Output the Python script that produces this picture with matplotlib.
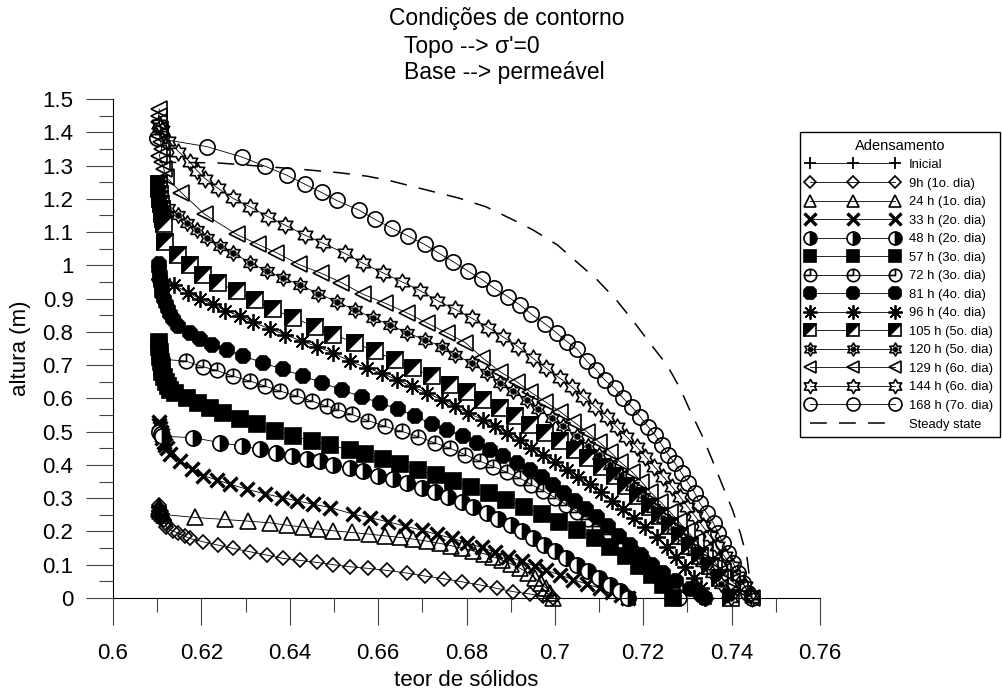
import numpy as np
import matplotlib
matplotlib.use("Agg")
import matplotlib.pyplot as plt
from matplotlib.path import Path
from matplotlib.ticker import MultipleLocator, FuncFormatter
from matplotlib.legend_handler import HandlerTuple

plt.rcParams['font.family'] = ['Liberation Sans', 'DejaVu Sans']

# ---------------------------------------------------------------- data
# solids content (x) versus height (y) for each time of the filling/consolidation test

x_ini = [0.6105, 0.6105]
y_ini = [0.275, 0.262]

x_9h = [0.6105, 0.6105, 0.6108, 0.6110, 0.6112, 0.6115, 0.6118, 0.6121, 0.6135, 0.6148, 0.6162,
        0.6174, 0.6204, 0.6238, 0.6272, 0.6310, 0.6348, 0.6385, 0.6423, 0.6461, 0.6499, 0.6536,
        0.6578, 0.6619, 0.6665, 0.6706, 0.6748, 0.6789, 0.6831, 0.6868, 0.6906, 0.6944, 0.6974, 0.6996]
y_9h = [0.280, 0.270, 0.262, 0.252, 0.243, 0.234, 0.225, 0.212, 0.202, 0.194, 0.186,
        0.179, 0.169, 0.159, 0.149, 0.139, 0.129, 0.119, 0.113, 0.107, 0.100, 0.094,
        0.089, 0.083, 0.075, 0.066, 0.058, 0.049, 0.039, 0.029, 0.019, 0.012, 0.006, 0.0]

x_24h = [0.6105, 0.6105, 0.6107, 0.6110, 0.6115, 0.6186, 0.6253, 0.6306, 0.6355, 0.6393, 0.6431,
         0.6465, 0.6499, 0.6540, 0.6580, 0.6615, 0.6650, 0.6680, 0.6710, 0.6740, 0.6765, 0.6790,
         0.6815, 0.6840, 0.6860, 0.6880, 0.6900, 0.6920, 0.6940, 0.6955, 0.6968, 0.6980, 0.6990, 0.6996]
y_24h = [0.275, 0.268, 0.262, 0.256, 0.251, 0.242, 0.236, 0.231, 0.226, 0.219, 0.213,
         0.207, 0.202, 0.197, 0.192, 0.187, 0.182, 0.177, 0.171, 0.164, 0.157, 0.150,
         0.142, 0.133, 0.124, 0.114, 0.103, 0.090, 0.075, 0.060, 0.045, 0.030, 0.015, 0.0]

x_33h = [0.6105, 0.6105, 0.6107, 0.6108, 0.6110, 0.6112, 0.6115, 0.6118, 0.6122, 0.6129, 0.6152,
         0.6178, 0.6204, 0.6235, 0.6265, 0.6303, 0.6344, 0.6382, 0.6416, 0.6453, 0.6491, 0.6544,
         0.6582, 0.6623, 0.6661, 0.6699, 0.6733, 0.6767, 0.6800, 0.6834, 0.6864, 0.6895, 0.6925,
         0.6955, 0.6981, 0.7012, 0.7042, 0.7072, 0.7102, 0.7130, 0.7150, 0.7166]
y_33h = [0.530, 0.520, 0.510, 0.500, 0.490, 0.480, 0.470, 0.460, 0.450, 0.432, 0.412,
         0.388, 0.368, 0.355, 0.342, 0.327, 0.313, 0.302, 0.292, 0.282, 0.272, 0.252,
         0.241, 0.229, 0.216, 0.204, 0.191, 0.180, 0.166, 0.152, 0.138, 0.124, 0.110,
         0.096, 0.083, 0.069, 0.055, 0.042, 0.029, 0.017, 0.008, 0.0]

x_48h = [0.6105, 0.6108, 0.6110, 0.6182, 0.6242, 0.6291, 0.6333, 0.6370, 0.6404, 0.6438, 0.6468,
         0.6499, 0.6536, 0.6566, 0.6600, 0.6634, 0.6665, 0.6699, 0.6729, 0.6759, 0.6789, 0.6815,
         0.6846, 0.6872, 0.6900, 0.6925, 0.6950, 0.6975, 0.7000, 0.7025, 0.7050, 0.7075, 0.7100,
         0.7125, 0.7148, 0.7166]
y_48h = [0.500, 0.492, 0.486, 0.482, 0.467, 0.457, 0.447, 0.437, 0.428, 0.419, 0.411,
         0.401, 0.391, 0.381, 0.368, 0.357, 0.346, 0.332, 0.318, 0.303, 0.288, 0.273,
         0.256, 0.238, 0.220, 0.200, 0.180, 0.160, 0.140, 0.120, 0.100, 0.080, 0.060,
         0.040, 0.020, 0.0]

x_57h = [0.6105, 0.6105, 0.6106, 0.6107, 0.6108, 0.6110, 0.6112, 0.6115, 0.6120, 0.6125, 0.6130,
         0.6140, 0.6167, 0.6193, 0.6220, 0.6250, 0.6287, 0.6325, 0.6367, 0.6408, 0.6450, 0.6491,
         0.6536, 0.6570, 0.6610, 0.6650, 0.6690, 0.6730, 0.6770, 0.6810, 0.6850, 0.6890, 0.6930,
         0.6970, 0.7010, 0.7050, 0.7090, 0.7125, 0.7160, 0.7190, 0.7220, 0.7245, 0.7268]
y_57h = [0.770, 0.755, 0.740, 0.725, 0.710, 0.695, 0.680, 0.665, 0.650, 0.636, 0.625,
         0.615, 0.600, 0.586, 0.571, 0.556, 0.538, 0.522, 0.503, 0.487, 0.472, 0.460,
         0.445, 0.432, 0.418, 0.402, 0.386, 0.370, 0.352, 0.334, 0.315, 0.295, 0.274,
         0.252, 0.229, 0.205, 0.180, 0.153, 0.125, 0.097, 0.068, 0.038, 0.0]

x_72h = [0.6105, 0.6107, 0.6110, 0.6165, 0.6204, 0.6235, 0.6272, 0.6310, 0.6344, 0.6378, 0.6416,
         0.6450, 0.6484, 0.6510, 0.6540, 0.6578, 0.6616, 0.6653, 0.6691, 0.6729, 0.6763, 0.6797,
         0.6831, 0.6861, 0.6891, 0.6921, 0.6947, 0.6974, 0.7000, 0.7025, 0.7050, 0.7075, 0.7100,
         0.7125, 0.7150, 0.7175, 0.7200, 0.7222, 0.7245, 0.7265, 0.7280]
y_72h = [0.735, 0.726, 0.718, 0.712, 0.695, 0.684, 0.667, 0.652, 0.637, 0.622, 0.607,
         0.592, 0.577, 0.566, 0.552, 0.533, 0.516, 0.501, 0.485, 0.466, 0.450, 0.431,
         0.411, 0.395, 0.378, 0.360, 0.341, 0.322, 0.302, 0.281, 0.260, 0.238, 0.215,
         0.191, 0.166, 0.140, 0.113, 0.086, 0.058, 0.030, 0.0]

x_81h = [0.6105, 0.6105, 0.6106, 0.6107, 0.6108, 0.6110, 0.6112, 0.6115, 0.6120, 0.6125, 0.6130,
         0.6135, 0.6148, 0.6174, 0.6197, 0.6223, 0.6257, 0.6295, 0.6340, 0.6385, 0.6431, 0.6472,
         0.6518, 0.6563, 0.6604, 0.6646, 0.6683, 0.6721, 0.6755, 0.6793, 0.6823, 0.6853, 0.6883,
         0.6914, 0.6944, 0.6970, 0.6995, 0.7020, 0.7045, 0.7070, 0.7095, 0.7120, 0.7145, 0.7170,
         0.7195, 0.7220, 0.7245, 0.7275, 0.7305, 0.7330, 0.7340]
y_81h = [1.005, 0.990, 0.975, 0.960, 0.945, 0.930, 0.915, 0.900, 0.885, 0.870, 0.855,
         0.840, 0.817, 0.797, 0.778, 0.762, 0.746, 0.727, 0.707, 0.687, 0.667, 0.647,
         0.626, 0.604, 0.587, 0.567, 0.547, 0.524, 0.506, 0.486, 0.466, 0.446, 0.426,
         0.405, 0.385, 0.363, 0.340, 0.317, 0.293, 0.268, 0.242, 0.215, 0.187, 0.158,
         0.129, 0.100, 0.075, 0.052, 0.028, 0.008, 0.0]

x_96h = [0.6105, 0.6108, 0.6115, 0.6137, 0.6170, 0.6197, 0.6227, 0.6253, 0.6287, 0.6317, 0.6355,
         0.6389, 0.6427, 0.6461, 0.6499, 0.6536, 0.6574, 0.6608, 0.6642, 0.6676, 0.6710, 0.6744,
         0.6774, 0.6804, 0.6838, 0.6864, 0.6891, 0.6921, 0.6947, 0.6974, 0.7000, 0.7027, 0.7053,
         0.7080, 0.7105, 0.7130, 0.7155, 0.7180, 0.7205, 0.7230, 0.7253, 0.7275, 0.7295, 0.7315,
         0.7330, 0.7340]
y_96h = [0.960, 0.952, 0.945, 0.941, 0.918, 0.899, 0.883, 0.864, 0.848, 0.829, 0.809,
         0.792, 0.772, 0.756, 0.736, 0.712, 0.692, 0.676, 0.656, 0.636, 0.616, 0.596,
         0.576, 0.556, 0.535, 0.516, 0.496, 0.475, 0.452, 0.431, 0.410, 0.386, 0.365,
         0.342, 0.318, 0.293, 0.268, 0.241, 0.213, 0.184, 0.154, 0.123, 0.092, 0.061,
         0.030, 0.0]

x_105h = [0.6105, 0.6105, 0.6106, 0.6107, 0.6108, 0.6110, 0.6112, 0.6114, 0.6116, 0.6118, 0.6148,
          0.6174, 0.6204, 0.6238, 0.6280, 0.6321, 0.6363, 0.6408, 0.6457, 0.6499, 0.6548, 0.6593,
          0.6638, 0.6680, 0.6721, 0.6763, 0.6800, 0.6838, 0.6876, 0.6910, 0.6944, 0.6978, 0.7012,
          0.7046, 0.7076, 0.7106, 0.7136, 0.7162, 0.7189, 0.7215, 0.7238, 0.7260, 0.7283, 0.7306,
          0.7328, 0.7351, 0.7374, 0.7398]
y_105h = [1.245, 1.230, 1.215, 1.200, 1.185, 1.170, 1.155, 1.140, 1.125, 1.071, 1.030,
          1.000, 0.972, 0.948, 0.922, 0.895, 0.868, 0.842, 0.816, 0.792, 0.767, 0.741,
          0.716, 0.691, 0.666, 0.641, 0.620, 0.596, 0.571, 0.546, 0.521, 0.496, 0.471,
          0.445, 0.420, 0.395, 0.366, 0.336, 0.306, 0.275, 0.245, 0.215, 0.185, 0.155,
          0.125, 0.095, 0.060, 0.0]

x_120h = [0.6105, 0.6107, 0.6110, 0.6125, 0.6148, 0.6167, 0.6189, 0.6212, 0.6242, 0.6272, 0.6310,
          0.6348, 0.6385, 0.6423, 0.6465, 0.6506, 0.6548, 0.6589, 0.6627, 0.6666, 0.6706, 0.6744,
          0.6774, 0.6812, 0.6846, 0.6876, 0.6906, 0.6936, 0.6962, 0.6993, 0.7019, 0.7049, 0.7075,
          0.7100, 0.7125, 0.7150, 0.7175, 0.7200, 0.7223, 0.7245, 0.7268, 0.7290, 0.7312, 0.7333,
          0.7355, 0.7375, 0.7392, 0.7398]
y_120h = [1.215, 1.200, 1.185, 1.171, 1.151, 1.128, 1.107, 1.083, 1.058, 1.037, 1.008,
          0.983, 0.962, 0.941, 0.915, 0.891, 0.866, 0.842, 0.821, 0.797, 0.776, 0.756,
          0.731, 0.706, 0.676, 0.647, 0.621, 0.596, 0.567, 0.541, 0.516, 0.486, 0.458,
          0.430, 0.400, 0.370, 0.338, 0.305, 0.272, 0.240, 0.207, 0.174, 0.141, 0.108,
          0.075, 0.042, 0.012, 0.0]

x_129h = [0.6105, 0.6103, 0.6105, 0.6107, 0.6105, 0.6108, 0.6110, 0.6105, 0.6110, 0.6115, 0.6120,
          0.6155, 0.6208, 0.6280, 0.6328, 0.6370, 0.6420, 0.6470, 0.6517, 0.6566, 0.6616, 0.6665,
          0.6710, 0.6755, 0.6797, 0.6836, 0.6876, 0.6914, 0.6944, 0.6978, 0.7012, 0.7042, 0.7072,
          0.7099, 0.7125, 0.7147, 0.7174, 0.7196, 0.7215, 0.7238, 0.7260, 0.7280, 0.7300, 0.7320,
          0.7340, 0.7360, 0.7380, 0.7400, 0.7420, 0.7446]
y_129h = [1.470, 1.450, 1.430, 1.410, 1.390, 1.370, 1.350, 1.330, 1.310, 1.290, 1.265,
          1.218, 1.153, 1.093, 1.063, 1.038, 1.003, 0.977, 0.948, 0.913, 0.886, 0.857,
          0.827, 0.797, 0.768, 0.722, 0.680, 0.650, 0.620, 0.590, 0.560, 0.530, 0.500,
          0.470, 0.440, 0.410, 0.380, 0.350, 0.320, 0.290, 0.260, 0.230, 0.200, 0.170,
          0.140, 0.110, 0.080, 0.052, 0.026, 0.0]

x_144h = [0.6105, 0.6107, 0.6110, 0.6125, 0.6148, 0.6174, 0.6190, 0.6208, 0.6238, 0.6272, 0.6310,
          0.6351, 0.6389, 0.6434, 0.6476, 0.6525, 0.6566, 0.6610, 0.6653, 0.6695, 0.6734, 0.6774,
          0.6812, 0.6849, 0.6883, 0.6917, 0.6951, 0.6981, 0.7012, 0.7038, 0.7064, 0.7091, 0.7117,
          0.7140, 0.7162, 0.7185, 0.7205, 0.7225, 0.7245, 0.7265, 0.7283, 0.7300, 0.7318, 0.7335,
          0.7352, 0.7368, 0.7384, 0.7400, 0.7415, 0.7430, 0.7443, 0.7446]
y_144h = [1.425, 1.415, 1.407, 1.375, 1.342, 1.311, 1.285, 1.261, 1.231, 1.201, 1.176,
          1.146, 1.121, 1.091, 1.066, 1.036, 1.006, 0.978, 0.951, 0.924, 0.894, 0.868,
          0.841, 0.813, 0.785, 0.755, 0.720, 0.690, 0.660, 0.635, 0.605, 0.575, 0.545,
          0.515, 0.485, 0.455, 0.425, 0.395, 0.365, 0.335, 0.305, 0.275, 0.245, 0.215,
          0.185, 0.155, 0.125, 0.095, 0.065, 0.035, 0.008, 0.0]

x_168h = [0.6099, 0.6212, 0.6291, 0.6344, 0.6393, 0.6434, 0.6472, 0.6506, 0.6557, 0.6593, 0.6632,
          0.6668, 0.6705, 0.6738, 0.6770, 0.6803, 0.6834, 0.6863, 0.6893, 0.6921, 0.6947, 0.6978,
          0.7004, 0.7028, 0.7051, 0.7072, 0.7094, 0.7113, 0.7136, 0.7155, 0.7174, 0.7193, 0.7211,
          0.7227, 0.7242, 0.7257, 0.7272, 0.7287, 0.7302, 0.7317, 0.7328, 0.7344, 0.7359, 0.7370,
          0.7381, 0.7392, 0.7404, 0.7415, 0.7426, 0.7438, 0.7446]
y_168h = [1.382, 1.357, 1.326, 1.298, 1.271, 1.244, 1.219, 1.195, 1.166, 1.138, 1.111,
          1.088, 1.063, 1.036, 1.011, 0.983, 0.958, 0.931, 0.906, 0.881, 0.853, 0.824,
          0.797, 0.770, 0.747, 0.712, 0.685, 0.655, 0.630, 0.600, 0.575, 0.545, 0.515,
          0.490, 0.460, 0.430, 0.405, 0.375, 0.345, 0.315, 0.285, 0.255, 0.225, 0.194,
          0.164, 0.134, 0.104, 0.074, 0.044, 0.014, 0.0]

x_steady = [0.6105, 0.6235, 0.6335, 0.6440, 0.6515, 0.6575, 0.6625, 0.6717, 0.6783, 0.6844, 0.6899,
            0.6951, 0.7006, 0.7053, 0.7096, 0.7139, 0.7179, 0.7215, 0.7254, 0.7283, 0.7306, 0.7334,
            0.7357, 0.7380, 0.7402, 0.7420, 0.7435, 0.7446]
y_steady = [1.310, 1.308, 1.298, 1.287, 1.278, 1.268, 1.255, 1.224, 1.202, 1.176, 1.141,
            1.106, 1.061, 1.006, 0.956, 0.896, 0.830, 0.766, 0.700, 0.631, 0.563, 0.486,
            0.412, 0.336, 0.265, 0.194, 0.120, 0.0]

labels = ['Inicial', '9h (1o. dia)', '24 h (1o. dia)', '33 h (2o. dia)', '48 h (2o. dia)',
          '57 h (3o. dia)', '72 h (3o. dia)', '81 h (4o. dia)', '96 h (4o. dia)',
          '105 h (5o. dia)', '120 h (5o. dia)', '129 h (6o. dia)', '144 h (6o. dia)',
          '168 h (7o. dia)', 'Steady state']

# ---------------------------------------------------------------- marker shapes
def hexagram():
    ang = np.deg2rad(90 + 30 * np.arange(12))
    r = np.where(np.arange(12) % 2 == 0, 1.0, 1 / np.sqrt(3))
    v = np.column_stack([r * np.cos(ang), r * np.sin(ang)])
    v = np.vstack([v, v[:1]])
    codes = [Path.MOVETO] + [Path.LINETO] * 11 + [Path.CLOSEPOLY]
    return Path(v, codes)

def clock():
    circ = Path.unit_circle()
    hands = Path([(0, 1), (0, 0), (-1, 0)], [Path.MOVETO, Path.LINETO, Path.LINETO])
    return Path.make_compound_path(circ, hands)

half_tri = Path([(-1, -1), (-1, 1), (1, 1), (-1, -1)],
                [Path.MOVETO, Path.LINETO, Path.LINETO, Path.CLOSEPOLY])
STAR = hexagram()
CLOCK = clock()

# ---------------------------------------------------------------- figure
fig = plt.figure(figsize=(10.03, 6.91), dpi=100)
ax = fig.add_axes([113 / 1003, 1 - 598 / 691, 707 / 1003, 499 / 691])

LW = 0.6
MEW = 1.2
common = dict(color='black', lw=LW, mec='black', mew=MEW, clip_on=False)

handles = []
h, = ax.plot(x_ini, y_ini, marker='+', ms=11, mew=1.3, color='black', lw=LW, clip_on=False)
handles.append(h)
h, = ax.plot(x_9h, y_9h, marker='D', ms=7.5, mfc='none', **common)
handles.append(h)
h, = ax.plot(x_24h, y_24h, marker='^', ms=11, mfc='none', **common)
handles.append(h)
h, = ax.plot(x_33h, y_33h, marker='x', ms=10.5, color='black', lw=LW, mec='black', mew=2.4,
             clip_on=False)
handles.append(h)
h, = ax.plot(x_48h, y_48h, marker='o', ms=11, fillstyle='right', mfc='black',
             markerfacecoloralt='white', **common)
handles.append(h)
h, = ax.plot(x_57h, y_57h, marker='s', ms=11, mfc='black', **common)
handles.append(h)
h, = ax.plot(x_72h, y_72h, marker=CLOCK, ms=10.5, mfc='none', **common)
handles.append(h)
h, = ax.plot(x_81h, y_81h, marker='8', ms=11.5, mfc='black', **common)
handles.append(h)
h, = ax.plot(x_96h, y_96h, marker=(8, 2, 0), ms=12, color='black', lw=LW, mec='black', mew=1.3,
             clip_on=False)
handles.append(h)
h1, = ax.plot(x_105h, y_105h, marker='s', ms=11, mfc='white', **common)
h2, = ax.plot(x_105h, y_105h, marker=half_tri, ms=11, mfc='black', ls='none',
              mec='black', mew=MEW, clip_on=False)
handles.append((h1, h2))
h1, = ax.plot(x_120h, y_120h, marker=STAR, ms=11, mfc='none', **common)
h2, = ax.plot(x_120h, y_120h, marker='h', ms=4.5, mfc='black', mec='black', mew=0.5, ls='none',
              clip_on=False)
handles.append((h1, h2))
h, = ax.plot(x_129h, y_129h, marker='<', ms=11, mfc='none', **common)
handles.append(h)
h, = ax.plot(x_144h, y_144h, marker=STAR, ms=12, mfc='none', **common)
handles.append(h)
h, = ax.plot(x_168h, y_168h, marker='o', ms=11, mfc='none', **common)
handles.append(h)
h, = ax.plot(x_steady, y_steady, color='black', lw=1.1, ls=(0, (11, 8)), clip_on=False)
handles.append(h)

# ---------------------------------------------------------------- axes
ax.set_xlim(0.6, 0.76)
ax.set_ylim(0, 1.5)
for s in ('top', 'right'):
    ax.spines[s].set_visible(False)
for s in ('left', 'bottom'):
    ax.spines[s].set_linewidth(0.8)

ax.xaxis.set_major_locator(MultipleLocator(0.02))
ax.xaxis.set_minor_locator(MultipleLocator(0.01))
ax.yaxis.set_major_locator(MultipleLocator(0.1))
ax.yaxis.set_minor_locator(MultipleLocator(0.05))
fmt = FuncFormatter(lambda v, p: f'{v:g}')
ax.xaxis.set_major_formatter(fmt)
ax.yaxis.set_major_formatter(fmt)
ax.tick_params(which='major', direction='out', length=19.5, width=0.8, color='#444444',
               labelsize=16)
ax.tick_params(which='minor', direction='out', length=10, width=0.8, color='#444444')
ax.tick_params(axis='x', which='major', pad=13)
ax.tick_params(axis='y', which='major', pad=9)

ax.set_xlabel('teor de sólidos', fontsize=16, labelpad=4)
ax.set_ylabel('altura (m)', fontsize=16, labelpad=8)

fig.text(389 / 1003, 1 - 18 / 691, 'Condições de contorno', fontsize=16.5, ha='left', va='center')
fig.text(404 / 1003, 1 - 46 / 691, "Topo --> σ'=0", fontsize=16.5, ha='left', va='center')
fig.text(404 / 1003, 1 - 73 / 691, 'Base --> permeável', fontsize=16.5, ha='left', va='center')

leg = fig.legend(handles, labels, loc='upper left', bbox_to_anchor=(800 / 1003, 1 - 132 / 691),
                 borderaxespad=0, title='Adensamento', numpoints=3, handlelength=7.1,
                 handletextpad=0.75, borderpad=0.5, labelspacing=0.49, markerscale=0.85,
                 fontsize=9.4, title_fontsize=10.5,
                 frameon=True, fancybox=False, edgecolor='black', framealpha=1,
                 handler_map={tuple: HandlerTuple(ndivide=1)})
leg.get_frame().set_linewidth(1.0)

fig.savefig('out.png', dpi=100)
